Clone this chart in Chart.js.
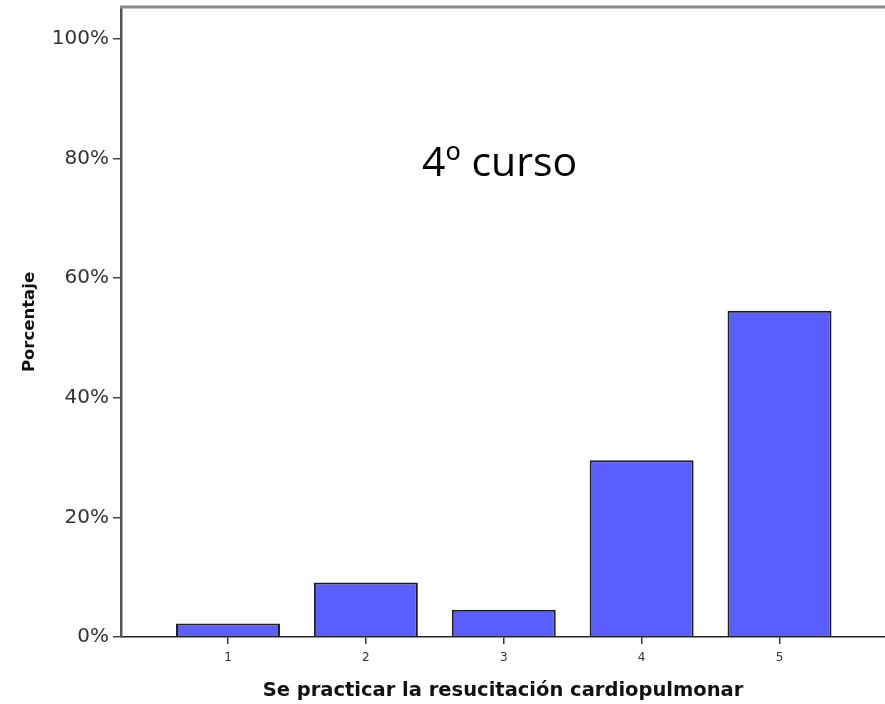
<!DOCTYPE html>
<html>
<head>
<meta charset="utf-8">
<script src="https://cdn.jsdelivr.net/npm/chart.js@4/dist/chart.umd.min.js"></script>
<style>
  html, body { margin: 0; padding: 0; background: #fff; }
  #wrap { width: 885px; height: 704px; }
</style>
</head>
<body>
<div id="wrap"><canvas id="barChart"></canvas></div>
<script>
const categories = ['1', '2', '3', '4', '5'];
const percentages = [2.27, 9.09, 4.55, 29.55, 54.55];
const yTicks = [0, 20, 40, 60, 80, 100];
const note = '4º curso';

// top frame line + "4º curso" label
const extras = {
  id: 'extras',
  afterDraw(chart) {
    const {ctx, chartArea, scales} = chart;
    ctx.save();
    ctx.strokeStyle = '#8a8a8a';
    ctx.lineWidth = 3;
    ctx.beginPath();
    ctx.moveTo(chartArea.left - 1, chartArea.top);
    ctx.lineTo(chartArea.right, chartArea.top);
    ctx.stroke();
    ctx.fillStyle = '#000';
    ctx.font = '41px "Open Sans", sans-serif';
    ctx.textAlign = 'center';
    ctx.textBaseline = 'middle';
    ctx.fillText(note, scales.x.getPixelForValue(2.97), scales.y.getPixelForValue(79));
    ctx.restore();
  }
};

new Chart('barChart', {
  type: 'bar',
  data: {
    datasets: [{
      data: categories.map((c, i) => ({x: Number(c), y: percentages[i]})),
      backgroundColor: '#5b5fff',
      borderColor: '#1e1e1e',
      borderWidth: 2,
      borderSkipped: 'bottom',
      categoryPercentage: 1,
      barPercentage: 0.754
    }]
  },
  options: {
    responsive: true,
    maintainAspectRatio: false,
    animation: false,
    layout: { padding: { top: 7, right: 0, left: 0, bottom: 0 } },
    plugins: { legend: { display: false }, tooltip: { enabled: false } },
    scales: {
      x: {
        type: 'linear',
        offset: false,
        min: 0.224,
        max: 5.765,
        afterBuildTicks: s => { s.ticks = categories.map(c => ({value: Number(c)})); },
        afterFit: s => { s.height = 67; s.paddingLeft = 0; s.paddingRight = 0; },
        ticks: {
          color: '#333',
          font: { family: 'DejaVu Sans', size: 12 },
          padding: 7,
          callback: v => String(v)
        },
        grid: { offset: false, drawOnChartArea: false, drawTicks: true, tickLength: 7, color: '#333', lineWidth: 1.5 },
        border: { color: '#222', width: 1.5 },
        title: {
          display: true,
          text: 'Se practicar la resucitación cardiopulmonar',
          color: '#111',
          font: { family: 'DejaVu Sans', size: 19.5, weight: 'bold' },
          padding: { top: 12, bottom: 1 }
        }
      },
      y: {
        min: 0,
        max: 105.3,
        afterBuildTicks: s => { s.ticks = yTicks.map(v => ({value: v})); },
        afterFit: s => { s.width = 121; s.paddingTop = 0; s.paddingBottom = 0; },
        ticks: {
          color: '#333',
          font: { family: 'DejaVu Sans', size: 20 },
          padding: 4,
          callback: v => v + '%'
        },
        grid: { drawOnChartArea: false, drawTicks: true, tickLength: 8, color: '#444', lineWidth: 1.5 },
        border: { color: '#555', width: 2.5 },
        title: {
          display: true,
          text: 'Porcentaje',
          color: '#111',
          font: { family: 'DejaVu Sans', size: 16.5, weight: 'bold' },
          padding: { top: 20, bottom: 0 }
        }
      }
    }
  },
  plugins: [extras]
});
</script>
</body>
</html>
